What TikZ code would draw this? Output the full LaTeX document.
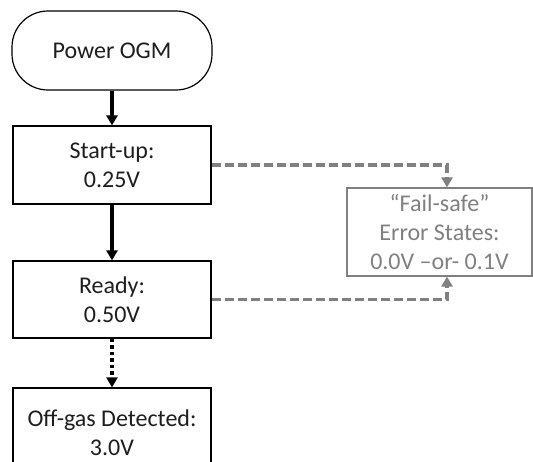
\documentclass[tikz,border=0pt]{standalone}
\usepackage{fontspec}
\setmainfont{Carlito}
\usetikzlibrary{arrows.meta}
\definecolor{lgray}{RGB}{128,128,128}
\definecolor{dtext}{RGB}{30,30,30}
\begin{document}
\begin{tikzpicture}[x=1pt,y=-1pt,
  txt/.style={align=center, font=\fontsize{24}{29}\selectfont, inner sep=0pt, text=dtext},
  box/.style={txt, draw=black, line width=1.2pt, minimum width=198pt},
  flowarrow/.style={draw=black, line width=3.5pt, -{Triangle[length=10pt,width=11pt]}},
  dotarrow/.style={flowarrow, dash pattern=on 3.5pt off 3pt},
  failarrow/.style={draw=lgray, line width=3.5pt, dash pattern=on 9pt off 4pt, -{Triangle[length=10pt,width=11pt]}}
]
\useasboundingbox (0,0) rectangle (533,461);
\clip (0,0) rectangle (533,461);
\node[box, minimum width=200pt, minimum height=79pt, rounded corners=36pt] (pw) at (112,50.5) {Power OGM};
\node[box, minimum height=78pt] (su) at (112,165) {Start-up:\\0.25V};
\node[box, minimum height=77pt] (rd) at (112,299.5) {Ready:\\0.50V};
\node[box, minimum height=90pt] (og) at (112,433) {Off-gas Detected:\\3.0V};
\node[txt, draw=lgray, text=lgray, line width=1.2pt, minimum width=185pt, minimum height=88pt] (fs) at (439.5,232) {“Fail-safe”\\Error States:\\0.0V –or- 0.1V};
\coordinate (fsx) at (447,0);
\draw[flowarrow] (pw) -- (su);
\draw[flowarrow] (su) -- (rd);
\draw[dotarrow] (rd) -- (og);
\draw[failarrow] (su.east) -| (fs.north -| fsx);
\draw[failarrow] (rd.east) -| (fs.south -| fsx);
\end{tikzpicture}
\end{document}
